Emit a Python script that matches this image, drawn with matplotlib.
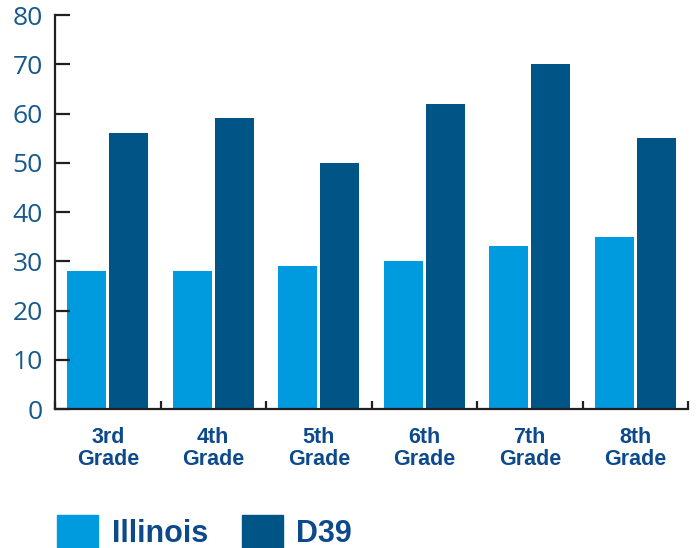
import numpy as np
import matplotlib.pyplot as plt
from matplotlib.patches import Patch

grades = ['3rd\nGrade', '4th\nGrade', '5th\nGrade', '6th\nGrade', '7th\nGrade', '8th\nGrade']
illinois = [28, 28, 29, 30, 33, 35]
d39 = [56, 59, 50, 62, 70, 55]

light = '#009ade'
dark = '#005587'
axis_col = '#231f20'
label_col = '#0d4a8c'

plt.rcParams['font.family'] = ['Open Sans', 'DejaVu Sans']

fig = plt.figure(figsize=(6.98, 5.48), dpi=100)
ax = fig.add_axes([0.0788, 0.2536, 0.9069, 0.719])

ind = np.arange(len(grades))
width = 0.37
ax.bar(ind - 0.2, illinois, width, color=light)
ax.bar(ind + 0.2, d39, width, color=dark)

ax.set_xlim(-0.5, len(grades) - 0.5)
ax.set_ylim(0, 80)
for s in ['top', 'right']:
    ax.spines[s].set_visible(False)
for s in ['left', 'bottom']:
    ax.spines[s].set_color(axis_col)
    ax.spines[s].set_linewidth(1.6)

ax.set_yticks(np.arange(0, 81, 10))
ax.tick_params(axis='y', direction='in', length=11, width=1.6, color=axis_col,
               pad=9, labelsize=19, labelcolor='#17598f')

ax.set_xticks(ind)
ax.set_xticklabels(grades, fontsize=15.5, fontweight='bold', color=label_col,
                   family=['Liberation Sans', 'DejaVu Sans'], linespacing=1.05)
ax.tick_params(axis='x', length=0, pad=13)
ax.set_xticks(np.arange(-0.5, len(grades)), minor=True)
ax.tick_params(axis='x', which='minor', direction='in', length=6, width=1.6, color=axis_col)

handles = [Patch(color=light, label='Illinois'), Patch(color=dark, label='D39')]
leg = fig.legend(handles=handles, loc='lower left', bbox_to_anchor=(0.06, -0.03), ncol=2,
                 frameon=False, borderpad=0, handlelength=1.34, handleheight=1.3,
                 handletextpad=0.45, columnspacing=1.1,
                 prop={'family': ['Liberation Sans', 'DejaVu Sans'], 'weight': 'bold', 'size': 22})
for t in leg.get_texts():
    t.set_color(label_col)

fig.savefig('out.png', dpi=100)
